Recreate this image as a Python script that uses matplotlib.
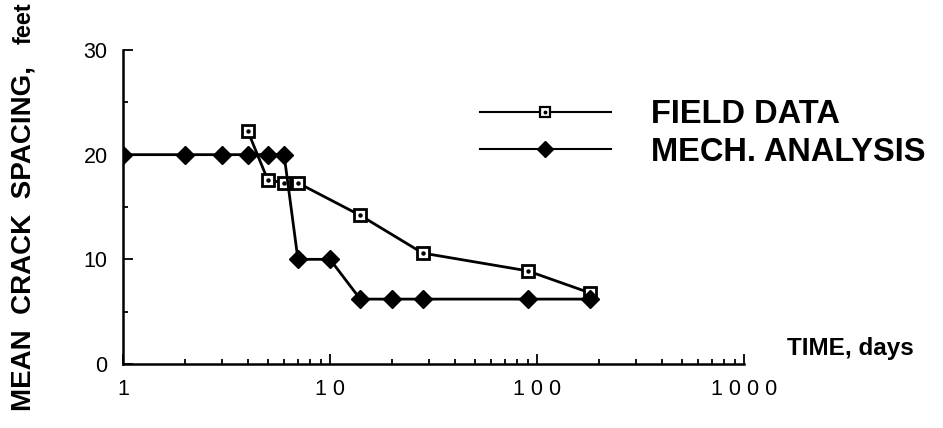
import matplotlib
matplotlib.use("Agg")
import matplotlib.pyplot as plt
from matplotlib.lines import Line2D
from matplotlib.ticker import FixedLocator, LogLocator, NullFormatter

plt.rcParams['font.family'] = ['Liberation Sans', 'DejaVu Sans']

# Data
field_days = [4, 5, 6, 7, 14, 28, 90, 180]
field_spacing = [22.3, 17.6, 17.3, 17.3, 14.2, 10.6, 8.9, 6.8]
mech_days = [1, 2, 3, 4, 5, 6, 7, 10, 14, 20, 28, 90, 180]
mech_spacing = [20, 20, 20, 20, 20, 20, 10, 10, 6.2, 6.2, 6.2, 6.2, 6.2]

x_ticks = [1, 10, 100, 1000]
x_tick_labels = ["1", "1 0", "1 0 0", "1 0 0 0"]
y_ticks = [0, 10, 20, 30]
y_tick_labels = ["0", "10", "20", "30"]
y_minor = [5, 15, 25]

W, H = 943, 428
fig = plt.figure(figsize=(W / 100, H / 100), dpi=100)
ax = fig.add_axes([123 / W, 1 - 364 / H, (744 - 123) / W, (364 - 50) / H])

ax.set_xscale('log')
ax.set_xlim(1, 1000)
ax.set_ylim(0, 30)

lw = 2.0
ax.plot(field_days, field_spacing, color='black', lw=lw, marker='s', ms=8.5,
        mfc='white', mec='black', mew=2.0, zorder=3)
ax.plot(field_days, field_spacing, ls='none', marker='o', ms=2.2,
        color='black', zorder=4)
ax.plot(mech_days, mech_spacing, color='black', lw=lw, marker='D', ms=9,
        mfc='black', mec='black', zorder=5)

for s in ['top', 'right']:
    ax.spines[s].set_visible(False)
for s in ['left', 'bottom']:
    ax.spines[s].set_linewidth(1.8)

ax.xaxis.set_major_locator(FixedLocator(x_ticks))
ax.set_xticklabels(x_tick_labels)
ax.xaxis.set_minor_locator(LogLocator(base=10, subs=range(2, 10)))
ax.xaxis.set_minor_formatter(NullFormatter())
ax.yaxis.set_major_locator(FixedLocator(y_ticks))
ax.set_yticklabels(y_tick_labels)
ax.yaxis.set_minor_locator(FixedLocator(y_minor))

ax.tick_params(which='major', direction='in', length=7, width=1.3,
               labelsize=15.5, pad=11)
ax.tick_params(which='minor', direction='in', length=3.5, width=1.3)

# Axis labels
fig.text(787 / W, 1 - 348 / H, "TIME, days", fontsize=17.5, fontweight='bold',
         ha='left', va='center')
fig.text(24 / W, 1 - 411 / H, "MEAN  CRACK  SPACING,", fontsize=20,
         fontweight='bold', rotation=90, ha='center', va='bottom')
fig.text(24 / W, 1 - 2 / H, "feet", fontsize=17, fontweight='bold',
         rotation=90, ha='center', va='top')

# Legend
h_field_sq = Line2D([], [], color='black', lw=1.5, marker='s', ms=7,
                    mfc='white', mec='black', mew=1.6)
h_field_dot = Line2D([], [], ls='none', marker='o', ms=1.8, color='black')
h_mech = Line2D([], [], color='black', lw=1.5, marker='D', ms=8,
                mfc='black', mec='black')
fig.legend([(h_field_sq, h_field_dot), h_mech],
           ["FIELD DATA", "MECH. ANALYSIS"],
           loc='upper left', bbox_to_anchor=(480 / W, 1 - 99 / H),
           frameon=False, numpoints=1, handlelength=4.0, handletextpad=1.25,
           labelspacing=0.2, borderpad=0, borderaxespad=0,
           prop={'family': 'Liberation Sans', 'weight': 'bold', 'size': 23.5})

fig.savefig("out.png", dpi=100)
